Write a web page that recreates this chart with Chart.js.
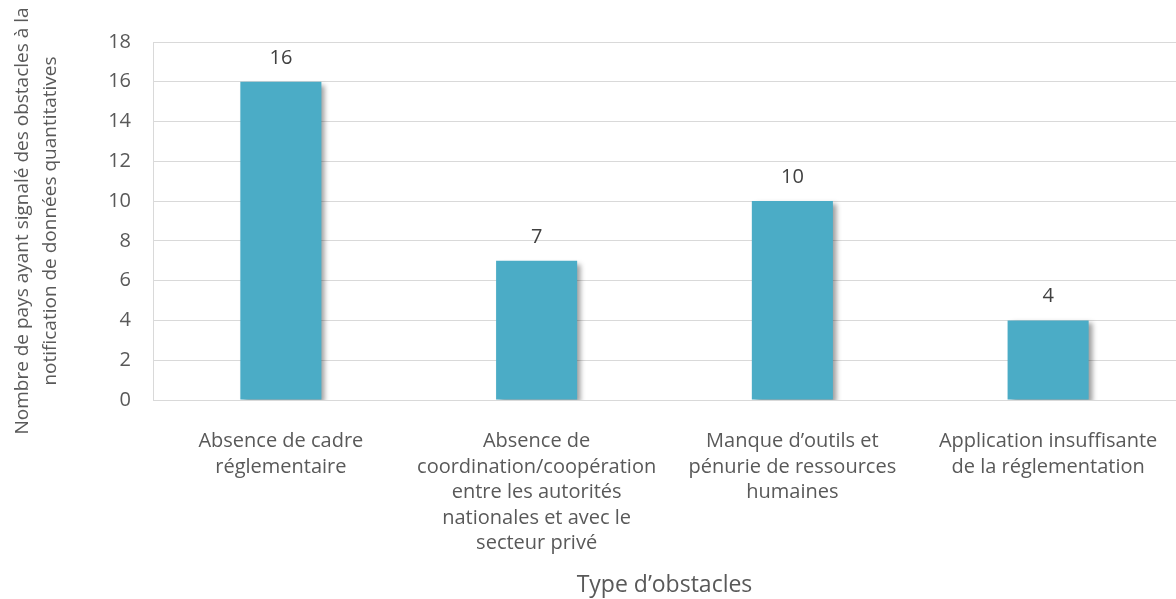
<!DOCTYPE html>
<html>
<head>
<meta charset="utf-8">
<script src="https://cdn.jsdelivr.net/npm/chart.js@4"></script>
<style>
  html, body { margin: 0; padding: 0; background: #fff; }
  #wrap { width: 1176px; height: 599px; }
</style>
</head>
<body>
<div id="wrap"><canvas id="obstaclesChart"></canvas></div>
<script>
// données
const categories = [
    ["Absence de cadre", "réglementaire"],
    ["Absence de", "coordination/coopération", "entre les autorités", "nationales et avec le", "secteur privé"],
    ["Manque d\u2019outils et", "pénurie de ressources", "humaines"],
    ["Application insuffisante", "de la réglementation"]
];
const values = [16, 7, 10, 4];
const yTicks = [0, 2, 4, 6, 8, 10, 12, 14, 16, 18];
const yTitle = ["Nombre de pays ayant signalé des obstacles à la", "notification de données quantitatives"];
const xTitle = "Type d\u2019obstacles";

const FONT = "'Open Sans', Lato, sans-serif";

/* ombre des barres + étiquettes de valeur */
const barExtras = {
    id: "barExtras",
    beforeDatasetDraw(chart) {
        const ctx = chart.ctx;
        ctx.save();
        ctx.shadowColor = "rgba(0,0,0,0.38)";
        ctx.shadowBlur = 5;
        ctx.shadowOffsetX = 4;
        ctx.shadowOffsetY = 3;
    },
    afterDatasetDraw(chart) {
        chart.ctx.restore();
    },
    afterDatasetsDraw(chart) {
        const ctx = chart.ctx;
        const meta = chart.getDatasetMeta(0);
        ctx.save();
        ctx.font = "20px " + FONT;
        ctx.fillStyle = "#404040";
        ctx.textAlign = "center";
        ctx.textBaseline = "alphabetic";
        meta.data.forEach((bar, i) => {
            ctx.fillText(values[i], bar.x, bar.y - 18);
        });
        ctx.restore();
    }
};

new Chart(document.getElementById("obstaclesChart"), {
    type: "bar",
    data: {
        labels: categories,
        datasets: [{
            data: values,
            backgroundColor: "#4bacc6",
            borderWidth: 0,
            categoryPercentage: 1,
            barPercentage: 0.317
        }]
    },
    options: {
        responsive: true,
        maintainAspectRatio: false,
        animation: false,
        layout: { padding: { top: 42, right: 0, left: 0, bottom: 0 } },
        plugins: {
            legend: { display: false },
            tooltip: { enabled: false }
        },
        scales: {
            x: {
                grid: { display: false, drawTicks: false },
                border: { color: "#d9d9d9", width: 1 },
                ticks: {
                    color: "#595959",
                    font: { family: FONT, size: 20, lineHeight: 1.27 },
                    padding: 29,
                    maxRotation: 0,
                    autoSkip: false
                },
                title: {
                    display: true,
                    text: xTitle,
                    color: "#595959",
                    font: { family: FONT, size: 23 },
                    padding: { top: 0, bottom: 0 }
                },
                afterFit(scale) {
                    scale.height = 199;
                    scale.paddingLeft = 0;
                    scale.paddingRight = 0;
                }
            },
            y: {
                min: 0,
                max: 18,
                afterBuildTicks(scale) { scale.ticks = yTicks.map(v => ({ value: v })); },
                grid: { color: "#d9d9d9", lineWidth: 1, drawTicks: false },
                border: { color: "#d9d9d9", width: 1 },
                ticks: {
                    color: "#595959",
                    font: { family: FONT, size: 20 },
                    padding: 22
                },
                title: {
                    display: true,
                    text: yTitle,
                    color: "#595959",
                    font: { family: FONT, size: 19, lineHeight: 1.45 },
                    padding: { top: 9, bottom: 0 }
                },
                afterFit(scale) { scale.width = 153; }
            }
        }
    },
    plugins: [barExtras]
});
</script>
</body>
</html>
